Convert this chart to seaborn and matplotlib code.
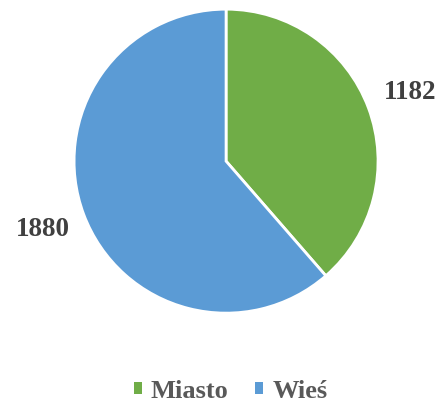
import matplotlib
matplotlib.use("Agg")
import matplotlib.pyplot as plt
import seaborn as sns
from matplotlib.patches import Patch

categories = ["Miasto", "Wieś"]
values = [1182, 1880]
colors = ["#70AD47", "#5B9BD5"]

sns.set_style("white")
plt.rcParams['font.family'] = ['Liberation Serif', 'DejaVu Serif']

fig = plt.figure(figsize=(4.45, 4.09), dpi=100)
ax = fig.add_axes([0.508 - 0.3416, 0.606 - 0.3716, 0.6832, 0.7432])
wedges, texts = ax.pie(values, labels=[str(v) for v in values], colors=colors,
                       startangle=90, counterclock=False, labeldistance=1.29,
                       wedgeprops=dict(edgecolor="white", linewidth=2),
                       textprops=dict(fontsize=19.5, fontweight="bold", color="#404040"))
for t in texts:
    t.set_ha("center")
    t.set_va("center")
ax.set_aspect("equal")
ax.set_xlim(-1, 1)
ax.set_ylim(-1, 1)

handles = [Patch(facecolor=c, edgecolor="none") for c in colors]
fig.legend(handles, categories, loc="center", bbox_to_anchor=(0.518, 1 - 391 / 409),
           ncol=2, frameon=False, handlelength=0.3, handleheight=0.3,
           handletextpad=0.35, columnspacing=1.0,
           prop=dict(family="Liberation Serif", weight="bold", size=19))
for t in fig.legends[0].get_texts():
    t.set_color("#595959")

fig.savefig("out.png", dpi=100, facecolor="white")
